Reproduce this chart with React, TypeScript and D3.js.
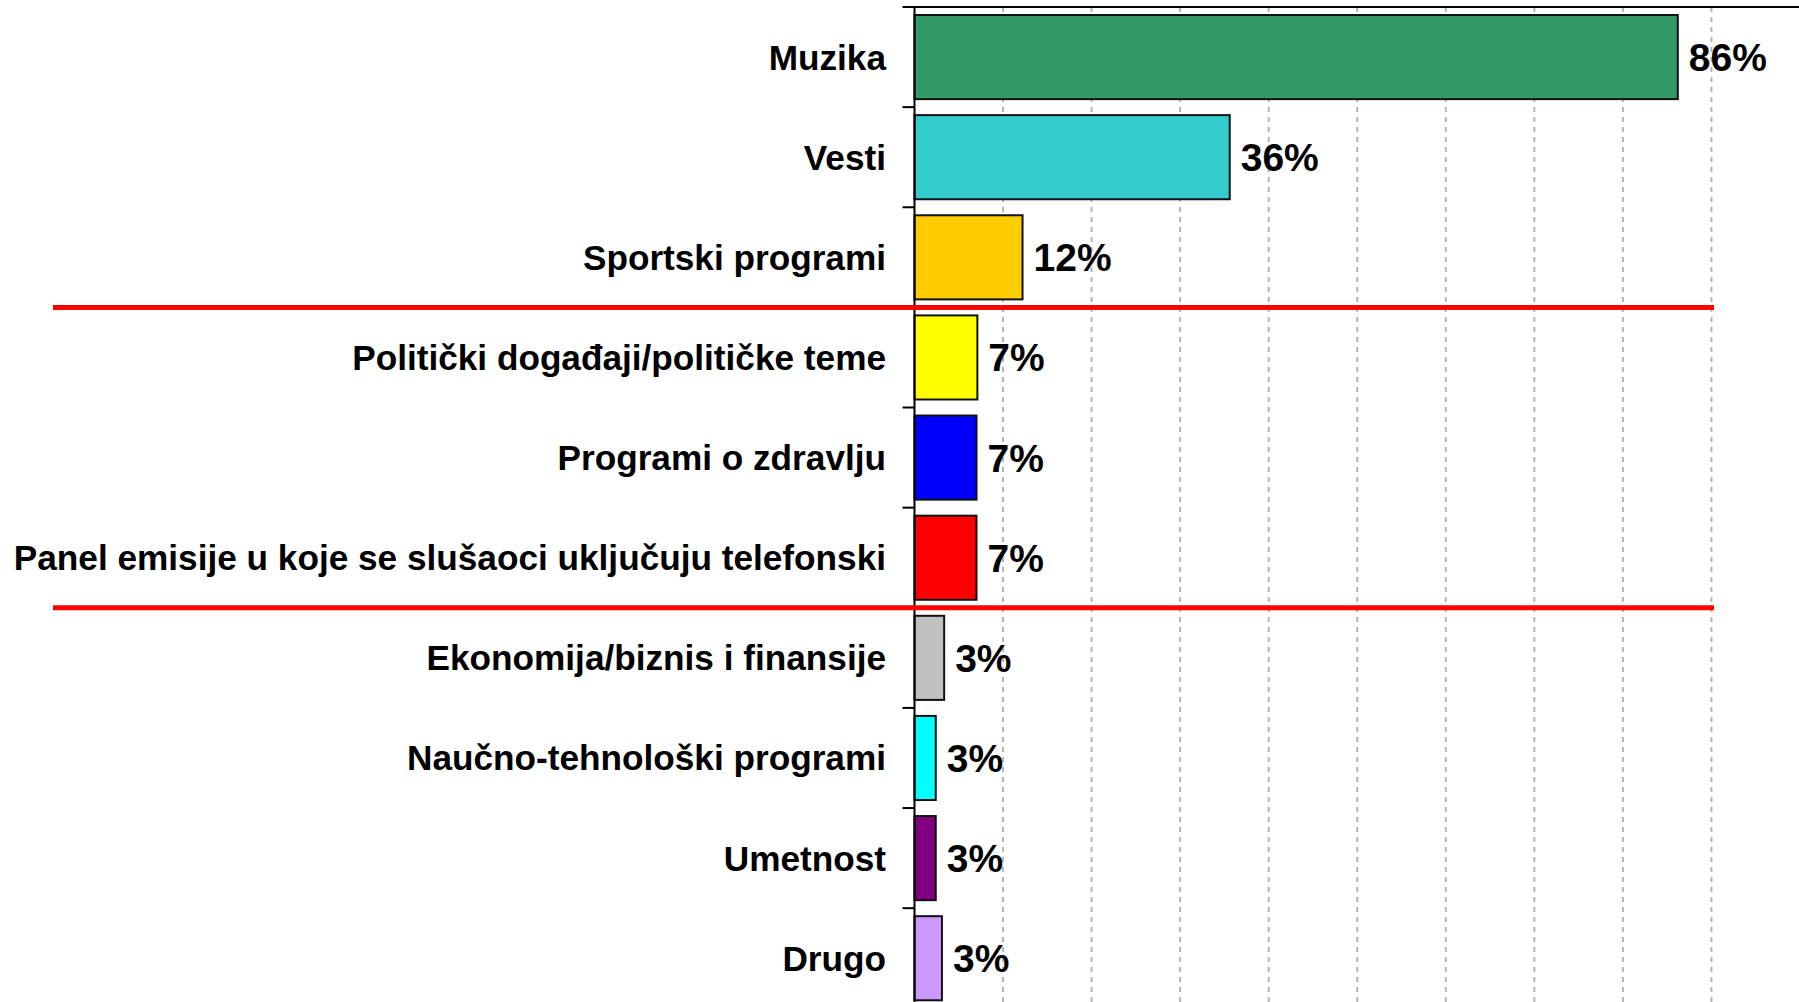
import React from "react";
import * as d3 from "d3";

const categories = [
  "Muzika",
  "Vesti",
  "Sportski programi",
  "Politički događaji/političke teme",
  "Programi o zdravlju",
  "Panel emisije u koje se slušaoci uključuju telefonski",
  "Ekonomija/biznis i finansije",
  "Naučno-tehnološki programi",
  "Umetnost",
  "Drugo",
];
const values = [86.2, 35.6, 12.2, 7.1, 7.0, 7.0, 3.35, 2.4, 2.4, 3.1];
const valueLabels = ["86%", "36%", "12%", "7%", "7%", "7%", "3%", "3%", "3%", "3%"];
const barColors = [
  "#339966",
  "#33CCCC",
  "#FFCC00",
  "#FFFF00",
  "#0000FF",
  "#FF0000",
  "#C0C0C0",
  "#00FFFF",
  "#800080",
  "#CC99FF",
];
const gridTicks = [10, 20, 30, 40, 50, 60, 70, 80, 90];
const separatorAfter = ["Sportski programi", "Panel emisije u koje se slušaoci uključuju telefonski"];

const W = 1799;
const H = 1002;

export default function App() {
  const x = d3.scaleLinear().domain([0, 100]).range([914.5, 1800]);
  const y = d3
    .scaleBand<string>()
    .domain(categories)
    .range([7, 1008.3])
    .paddingInner(0.16)
    .paddingOuter(0.08);
  const step = y.step();
  const bandTop = (c: string) => 7 + categories.indexOf(c) * step;
  const font = "'Liberation Sans', Arial, Helvetica, sans-serif";

  return (
    <svg
      width={W}
      height={H}
      style={{ position: "absolute", left: 0, top: 0, background: "#fff" }}
    >
      {gridTicks.map((t) => (
        <line
          key={t}
          x1={x(t)}
          x2={x(t)}
          y1={7}
          y2={H}
          stroke="#B4B4B4"
          strokeWidth={2}
          strokeDasharray="5,5"
        />
      ))}
      <line x1={x(0)} x2={W} y1={7} y2={7} stroke="#000" strokeWidth={2} />
      {categories.map((c, i) => (
        <rect
          key={c}
          x={x(0)}
          y={y(c)}
          width={x(values[i]) - x(0)}
          height={y.bandwidth()}
          fill={barColors[i]}
          stroke="#111"
          strokeWidth={2}
        />
      ))}
      {categories.map((c, i) => (
        <text
          key={"v" + c}
          x={x(values[i]) + 11}
          y={(y(c) as number) + y.bandwidth() / 2 + 14}
          fontFamily={font}
          fontWeight="bold"
          fontSize={39}
          fill="#000"
        >
          {valueLabels[i]}
        </text>
      ))}
      {categories.map((c) => (
        <text
          key={"c" + c}
          x={886}
          y={bandTop(c) + step / 2 + 12.5}
          textAnchor="end"
          fontFamily={font}
          fontWeight="bold"
          fontSize={35.2}
          fill="#000"
        >
          {c}
        </text>
      ))}
      <line x1={x(0)} x2={x(0)} y1={6} y2={H} stroke="#000" strokeWidth={2} />
      {categories.map((c) => (
        <line
          key={"t" + c}
          x1={x(0) - 12}
          x2={x(0)}
          y1={bandTop(c)}
          y2={bandTop(c)}
          stroke="#000"
          strokeWidth={2}
        />
      ))}
      {separatorAfter.map((c) => {
        const yy = bandTop(c) + step;
        return (
          <line
            key={"s" + c}
            x1={53}
            x2={1714}
            y1={yy}
            y2={yy}
            stroke="#FF0000"
            strokeWidth={5}
          />
        );
      })}
    </svg>
  );
}
